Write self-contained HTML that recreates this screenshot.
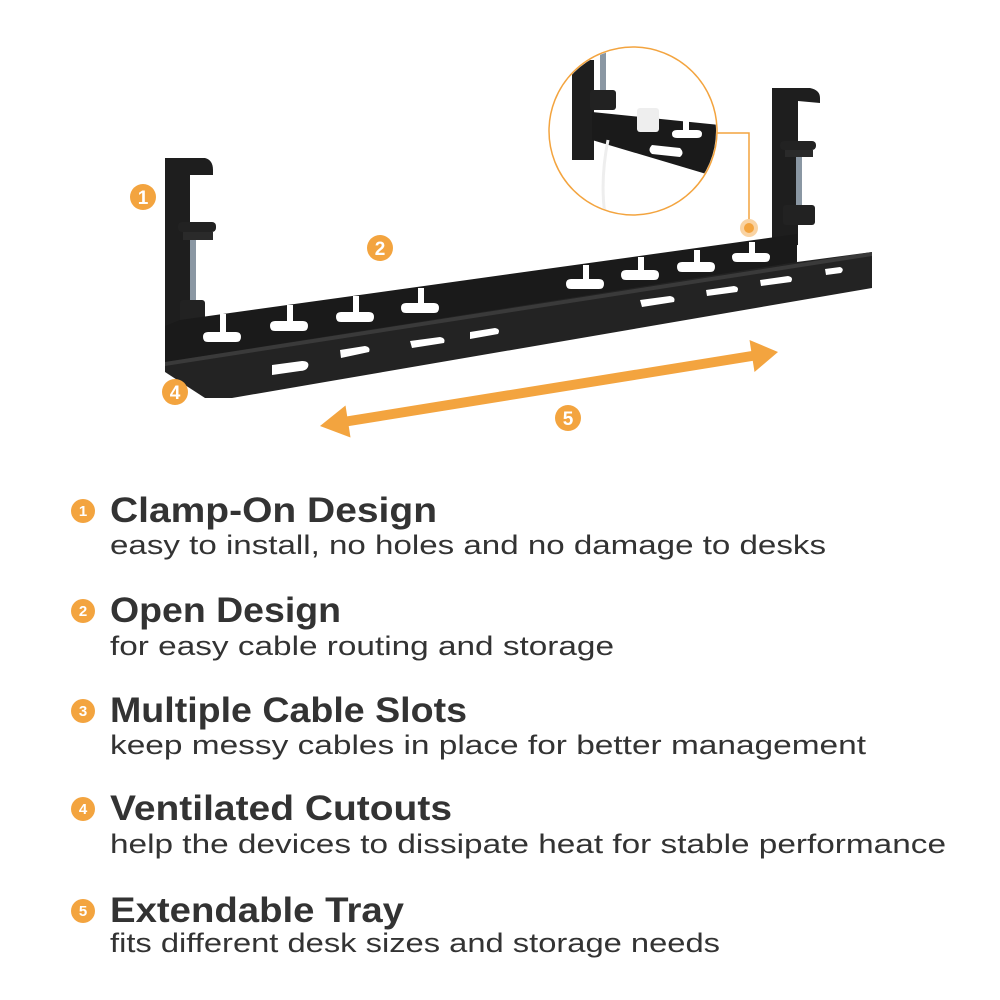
<!DOCTYPE html>
<html><head><meta charset="utf-8">
<style>
html,body{margin:0;padding:0;background:#fff;}
svg{display:block;}
</style></head>
<body>
<svg width="1000" height="1000" viewBox="0 0 1000 1000" xmlns="http://www.w3.org/2000/svg">
<rect width="1000" height="1000" fill="#fff"/>
<!-- left post -->
<path d="M165 158 L205 158 Q213 160 213 170 L213 175 L190 175 L190 330 L165 330 Z" fill="#1e1e1e"/>
<rect x="178" y="222" width="38" height="10" rx="4" fill="#222"/>
<rect x="183" y="232" width="30" height="8" fill="#2a2a2a"/>
<rect x="190" y="240" width="6" height="62" fill="#8a97a3"/>
<rect x="180" y="300" width="25" height="26" rx="3" fill="#222"/>
<!-- right post -->
<path d="M772 88 L810 88 Q820 90 820 98 L820 103 L798 101 L798 245 L772 248 Z" fill="#1e1e1e"/>
<rect x="780" y="141" width="36" height="9" rx="4" fill="#222"/>
<rect x="785" y="150" width="28" height="7" fill="#2a2a2a"/>
<rect x="796" y="157" width="6" height="52" fill="#8a97a3"/>
<rect x="783" y="205" width="32" height="20" rx="3" fill="#222"/>
<!-- slotted upper panel -->
<path d="M165 326 L180 320 L797 234 L797 266 L165 364 Z" fill="#1a1a1a"/>
<g fill="#fff">
<path d="M220 314 h6 v18 h10 q5 0 5 5 q0 5 -5 5 h-28 q-5 0 -5 -5 q0 -5 5 -5 h12 z"/>
<path d="M287 305 h6 v16 h10 q5 0 5 5 q0 5 -5 5 h-28 q-5 0 -5 -5 q0 -5 5 -5 h12 z"/>
<path d="M353 296 h6 v16 h10 q5 0 5 5 q0 5 -5 5 h-28 q-5 0 -5 -5 q0 -5 5 -5 h12 z"/>
<path d="M418 288 h6 v15 h10 q5 0 5 5 q0 5 -5 5 h-28 q-5 0 -5 -5 q0 -5 5 -5 h12 z"/>
<path d="M583 265 h6 v14 h10 q5 0 5 5 q0 5 -5 5 h-28 q-5 0 -5 -5 q0 -5 5 -5 h12 z"/>
<path d="M638 257 h6 v13 h10 q5 0 5 5 q0 5 -5 5 h-28 q-5 0 -5 -5 q0 -5 5 -5 h12 z"/>
<path d="M694 250 h6 v12 h10 q5 0 5 5 q0 5 -5 5 h-28 q-5 0 -5 -5 q0 -5 5 -5 h12 z"/>
<path d="M749 242 h6 v11 h10 q5 0 5 4 q0 5 -5 5 h-28 q-5 0 -5 -5 q0 -4 5 -4 h12 z"/>
</g>
<!-- lower tray body -->
<path d="M165 362 L797 262 L872 252 L872 288 L232 398 L205 398 L165 372 Z" fill="#232323"/>
<path d="M165 362 L872 252 L872 256 L165 366 Z" fill="#3a3a3a"/>
<g fill="#fff">
<path d="M272 365 l30 -4 q8 0 6 6 q-2 4 -8 4 l-28 4 z"/>
<path d="M340 350 l25 -4 q6 1 4 6 l-28 6 z"/>
<path d="M410 341 l30 -4 q6 1 4 6 l-32 5 z"/>
<path d="M470 332 l25 -4 q6 1 3 6 l-28 5 z"/>
<path d="M640 300 l30 -4 q6 1 4 6 l-32 5 z"/>
<path d="M706 290 l28 -4 q6 1 3 6 l-30 4 z"/>
<path d="M760 280 l28 -4 q6 1 3 6 l-30 4 z"/>
<path d="M825 269 l15 -2 q5 2 1 6 l-15 2 z"/>
</g>
<!-- inset circle -->
<circle cx="633" cy="131" r="84" fill="#fff" stroke="#F3A43F" stroke-width="1.5"/>
<clipPath id="cc"><circle cx="633" cy="131" r="83"/></clipPath>
<g clip-path="url(#cc)">
<rect x="572" y="60" width="22" height="100" fill="#1e1e1e"/>
<rect x="600" y="45" width="6" height="50" fill="#8a97a3"/>
<rect x="590" y="90" width="26" height="20" rx="3" fill="#222"/>
<path d="M592 112 L720 125 L720 178 L592 140 Z" fill="#1a1a1a"/>
<path d="M652 145 q-5 5 0 9 l28 3 q5 -4 0 -9 z" fill="#fff"/>
<path d="M683 120 h6 v10 h8 q5 0 5 4 q0 4 -5 4 h-20 q-5 0 -5 -4 q0 -4 5 -4 h6 z" fill="#fff"/>
<path d="M608 140 Q600 180 605 215" stroke="#eee" stroke-width="3" fill="none"/>
<rect x="637" y="108" width="22" height="24" rx="3" fill="#eee"/>
</g>
<path d="M717 133 L749 133 L749 224" stroke="#F3A43F" stroke-width="1.5" fill="none"/>
<circle cx="749" cy="228" r="9" fill="#F9D3A3"/>
<circle cx="749" cy="228" r="5" fill="#F3A43F"/>
<!-- arrow -->
<g fill="#F3A43F">
<path d="M340.8 427.4 L758.8 359.9 L757.2 350.1 L339.2 417.6 Z"/>
<path d="M778 352 L754.5 372 L749.5 340 Z"/>
<path d="M320 426 L350.5 437.5 L345.5 405.5 Z"/>
</g>
<!-- number labels -->
<g font-family="Liberation Sans, sans-serif" font-weight="bold" font-size="19" fill="#fff" text-anchor="middle">
<circle cx="143" cy="197" r="13" fill="#F3A43F"/><text x="143" y="204">1</text>
<circle cx="380" cy="248" r="13" fill="#F3A43F"/><text x="380" y="255">2</text>
<circle cx="175" cy="392" r="13" fill="#F3A43F"/><text x="175" y="399">4</text>
<circle cx="568" cy="418" r="13" fill="#F3A43F"/><text x="568" y="425">5</text>
</g>
<!-- list -->
<g font-family="Liberation Sans, sans-serif" font-weight="bold" font-size="15" fill="#fff" text-anchor="middle">
<circle cx="83" cy="511" r="12" fill="#F3A43F"/><text x="83" y="516">1</text>
<circle cx="83" cy="611" r="12" fill="#F3A43F"/><text x="83" y="616">2</text>
<circle cx="83" cy="711" r="12" fill="#F3A43F"/><text x="83" y="716">3</text>
<circle cx="83" cy="809" r="12" fill="#F3A43F"/><text x="83" y="814">4</text>
<circle cx="83" cy="911" r="12" fill="#F3A43F"/><text x="83" y="916">5</text>
</g>
<g font-family="Liberation Sans, sans-serif" font-weight="bold" font-size="35" fill="#333">
<text x="110" y="522" textLength="327" lengthAdjust="spacingAndGlyphs">Clamp-On Design</text>
<text x="110" y="622" textLength="231" lengthAdjust="spacingAndGlyphs">Open Design</text>
<text x="110" y="722" textLength="357" lengthAdjust="spacingAndGlyphs">Multiple Cable Slots</text>
<text x="110" y="820" textLength="342" lengthAdjust="spacingAndGlyphs">Ventilated Cutouts</text>
<text x="110" y="922" textLength="294" lengthAdjust="spacingAndGlyphs">Extendable Tray</text>
</g>
<g font-family="Liberation Sans, sans-serif" font-size="27" fill="#333">
<text x="110" y="554" textLength="716" lengthAdjust="spacingAndGlyphs">easy to install, no holes and no damage to desks</text>
<text x="110" y="655" textLength="504" lengthAdjust="spacingAndGlyphs">for easy cable routing and storage</text>
<text x="110" y="754" textLength="756" lengthAdjust="spacingAndGlyphs">keep messy cables in place for better management</text>
<text x="110" y="853" textLength="836" lengthAdjust="spacingAndGlyphs">help the devices to dissipate heat for stable performance</text>
<text x="110" y="952" textLength="610" lengthAdjust="spacingAndGlyphs">fits different desk sizes and storage needs</text>
</g>
</svg>
</body></html>
